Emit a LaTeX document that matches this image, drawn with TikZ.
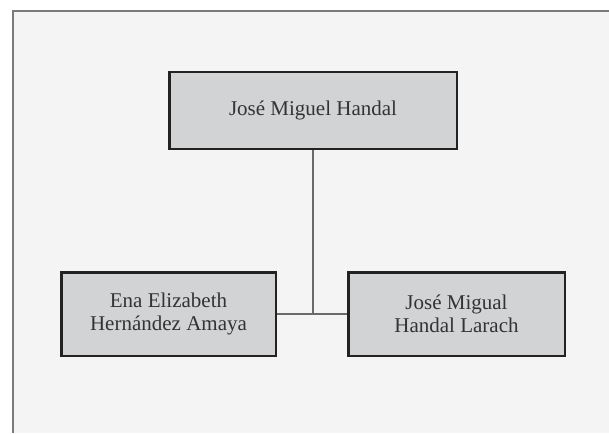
\documentclass[tikz,border=0pt]{standalone}
\usepackage{fontspec}
\setmainfont{Liberation Serif}
\definecolor{panel}{HTML}{F4F4F4}
\definecolor{boxfill}{HTML}{D2D3D5}
\definecolor{boxline}{HTML}{222222}
\definecolor{conn}{HTML}{6A6A6A}
\definecolor{paneledge}{HTML}{7A7A7A}
\definecolor{txt}{HTML}{333333}
\begin{document}
\begin{tikzpicture}[x=1pt,y=-1pt,
  person/.style={draw=boxline, line width=2.5pt, fill=boxfill, text=txt,
    font=\fontsize{21}{23}\selectfont, align=center, inner sep=0pt},
  link/.style={draw=conn, line width=1.1pt}]
\useasboundingbox (0,0) rectangle (609,433);
\fill[white] (0,0) rectangle (609,433);
\fill[panel] (13,11) rectangle (609,433);
\draw[paneledge, line width=1.6pt] (13,433) -- (13,11) -- (609,11);
\node[person, minimum width=287.5pt, minimum height=76.5pt] (top) at (313,110.5) {José Miguel Handal};
\node[person, minimum width=214.5pt, minimum height=83.5pt] (left) at (168.5,314) {Ena Elizabeth\\Hernández Amaya};
\node[person, minimum width=216.5pt, minimum height=83.5pt] (right) at (456.5,314) {José Migual\\Handal Larach};
\coordinate (j) at (top.south |- left.east);
\draw[link] (top.south) -- (j);
\draw[link] (left.east) -- (right.west);
\end{tikzpicture}
\end{document}
